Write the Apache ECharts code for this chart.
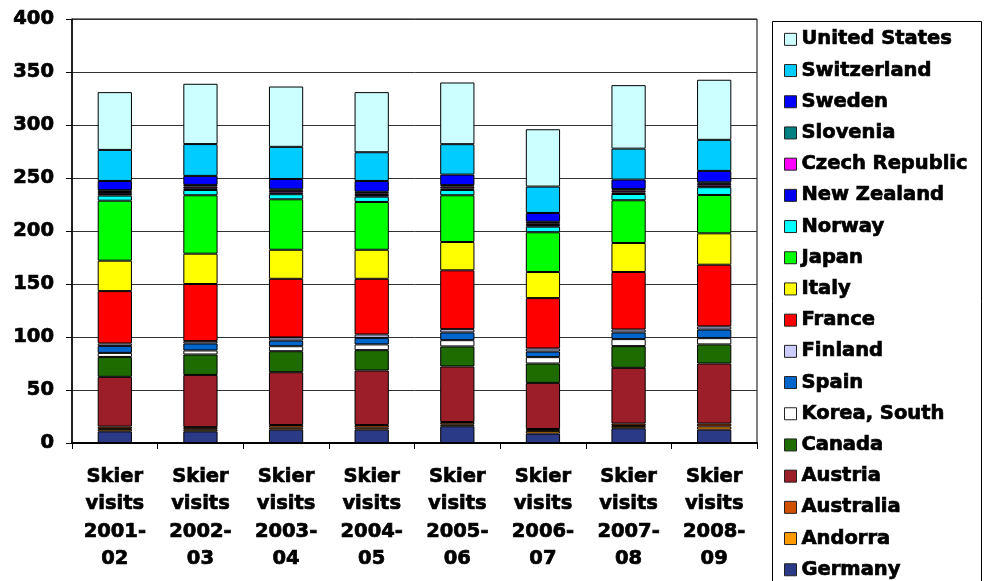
<!DOCTYPE html>
<html>
<head>
<meta charset="utf-8">
<script src="https://cdn.jsdelivr.net/npm/echarts@6/dist/echarts.min.js"></script>
<style>
  html, body { margin: 0; padding: 0; background: #fff; }
  #chart { width: 984px; height: 581px; }
</style>
</head>
<body>
<div id="chart"></div>
<script>
// Skier visits (millions) by country, stacked per season
const categories = ['Skier visits 2001-02', 'Skier visits 2002-03', 'Skier visits 2003-04', 'Skier visits 2004-05',
                    'Skier visits 2005-06', 'Skier visits 2006-07', 'Skier visits 2007-08', 'Skier visits 2008-09'];
const yTicks = [0, 50, 100, 150, 200, 250, 300, 350, 400];

// Stack order: bottom to top
const countries = ['Germany', 'Andorra', 'Australia', 'Austria', 'Canada', 'Korea, South', 'Spain', 'Finland',
                   'France', 'Italy', 'Japan', 'Norway', 'New Zealand', 'Czech Republic', 'Slovenia', 'Sweden',
                   'Switzerland', 'United States'];

const germany      = [11.0, 11.0, 12.6, 12.6, 15.8, 8.9, 13.9, 12.6];
const andorra      = [2.3, 2.0, 1.9, 1.9, 1.8, 2.5, 2.2, 3.0];
const australia    = [2.2, 2.0, 2.5, 2.5, 2.2, 1.8, 2.2, 2.7];
const austria      = [46.9, 49.2, 49.8, 51.4, 52.4, 43.5, 52.6, 56.7];
const canada       = [18.8, 19.3, 19.8, 19.2, 18.9, 18.3, 20.5, 18.0];
const koreaSouth   = [3.8, 3.8, 4.7, 5.4, 5.9, 6.0, 6.6, 5.9];
const spain        = [6.6, 6.6, 5.4, 6.2, 7.3, 5.3, 6.3, 8.2];
const finland      = [2.3, 2.2, 2.9, 3.2, 3.1, 2.9, 2.8, 2.9];
const france       = [49.4, 53.9, 55.3, 52.5, 55.5, 47.5, 54.2, 58.2];
const italy        = [28.7, 28.6, 27.4, 27.4, 26.7, 24.6, 27.4, 29.6];
const japan        = [56.6, 55.1, 47.6, 45.1, 44.1, 37.5, 40.3, 36.2];
const norway       = [4.8, 5.0, 4.8, 5.0, 5.0, 5.3, 5.9, 7.3];
const newZealand   = [1.6, 1.6, 1.5, 1.5, 1.5, 1.5, 1.5, 1.5];
const czechRep     = [1.8, 1.7, 1.7, 1.7, 1.7, 1.7, 1.7, 1.7];
const slovenia     = [1.7, 1.5, 1.4, 1.4, 1.4, 1.4, 1.4, 1.4];
const sweden       = [8.7, 8.5, 9.8, 10.2, 9.9, 8.3, 9.0, 10.8];
const switzerland  = [29.3, 30.0, 30.3, 27.1, 28.7, 24.9, 29.2, 29.3];
const unitedStates = [54.5, 56.9, 56.9, 56.7, 58.2, 54.1, 59.9, 56.7];

const seriesValues = [germany, andorra, australia, austria, canada, koreaSouth, spain, finland,
                      france, italy, japan, norway, newZealand, czechRep, slovenia, sweden,
                      switzerland, unitedStates];

const colors = ['#2B3A87', '#FF9900', '#D05000', '#9C1E28', '#1E6B00', '#FFFFFF', '#0066CC', '#CCCCFF',
                '#FF0000', '#FFFF00', '#00FF00', '#00FFFF', '#0000EE', '#FF00FF', '#008080', '#0000FF',
                '#00CCFF', '#CCFFFF'];

const FONT = '"DejaVu Sans", Verdana, sans-serif';
// heavy bold text: bold face plus a hairline outline
const heavyText = { fontFamily: FONT, fontWeight: 'bold', fontSize: 19.5, color: '#000',
                    textBorderColor: '#000', textBorderWidth: 0.7 };

const chart = echarts.init(document.getElementById('chart'), null, { renderer: 'canvas' });

const series = countries.map((name, i) => ({
  name: name,
  type: 'bar',
  stack: 'visits',
  barWidth: '40%',
  data: seriesValues[i],
  itemStyle: { color: colors[i], borderColor: '#000', borderWidth: 1 },
  emphasis: { disabled: true }
}));

chart.setOption({
  animation: false,
  backgroundColor: '#fff',
  grid: {
    left: 72, right: 227, top: 19, bottom: 138,
    show: true, borderColor: '#000', borderWidth: 1, backgroundColor: 'transparent'
  },
  legend: {
    orient: 'vertical',
    left: 784,
    top: 29,
    height: 600,
    padding: 0,
    data: countries.slice().reverse(),
    itemWidth: 12,
    itemHeight: 12,
    itemGap: 10.5,
    icon: 'rect',
    itemStyle: { borderColor: '#222', borderWidth: 1 },
    textStyle: Object.assign({ lineHeight: 20 }, heavyText),
    selectedMode: false
  },
  graphic: [{
    type: 'rect',
    shape: { x: 772.5, y: 21.5, width: 209, height: 620 },
    style: { fill: 'none', stroke: '#000', lineWidth: 1 },
    silent: true,
    z: 10
  }],
  xAxis: {
    type: 'category',
    data: categories,
    axisLine: { lineStyle: { color: '#000', width: 2 } },
    axisTick: { show: true, alignWithLabel: false, length: 6, lineStyle: { color: '#000', width: 1 } },
    axisLabel: Object.assign({
      margin: 20,
      lineHeight: 27.4,
      formatter: v => v.replace(/^(\S+) (\S+) (\d{4}-)(\d{2})$/, '$1\n$2\n$3\n$4')
    }, heavyText),
    splitLine: { show: false }
  },
  yAxis: {
    type: 'value',
    min: yTicks[0],
    max: yTicks[yTicks.length - 1],
    interval: yTicks[1] - yTicks[0],
    axisLine: { show: true, lineStyle: { color: '#000', width: 1.5 } },
    axisTick: { show: true, length: 6, lineStyle: { color: '#000', width: 1 } },
    axisLabel: Object.assign({ margin: 18 }, heavyText),
    splitLine: { show: true, lineStyle: { color: '#333', width: 1 } }
  },
  series: series
});
</script>
</body>
</html>
